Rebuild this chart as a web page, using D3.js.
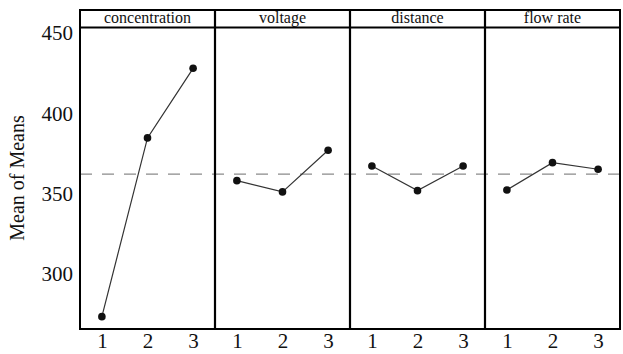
<!DOCTYPE html>
<html>
<head>
<meta charset="utf-8">
<script src="https://cdn.jsdelivr.net/npm/d3@7"></script>
<style>
  body { margin: 0; background: #fff; }
  svg { display: block; }
  svg text { font-family: 'Liberation Serif', 'Times New Roman', serif !important; }
</style>
</head>
<body>
<div id="chart"></div>
<script>
// factors and their level means
var factors = ['concentration', 'voltage', 'distance', 'flow rate']
var levels = ['1', '2', '3']
var concentration = [273.5, 384.7, 428.0]
var voltage = [358.1, 351.1, 377.0]
var distance = [367.2, 351.9, 367.2]
var flowRate = [352.3, 369.3, 365.2]
var yTicks = [300, 350, 400, 450]

var series = [concentration, voltage, distance, flowRate]

var width = 623
var height = 354
var plotLeft = 80
var plotRight = 620
var plotTop = 10
var headerBottom = 27.5
var plotBottom = 329
var serif = "'Liberation Serif', 'Times New Roman', serif"

var svg = d3
  .select('#chart')
  .append('svg')
  .attr('width', width)
  .attr('height', height)
  .attr('font-family', serif)

var panelScale = d3
  .scaleBand()
  .domain(factors)
  .range([plotLeft, plotRight])

var xScale = d3
  .scalePoint()
  .domain(levels)
  .range([0, panelScale.bandwidth()])
  .padding(0.48)

var yScale = d3
  .scaleLinear()
  .domain([265.8, 453.4])
  .range([plotBottom, headerBottom])

var grandMean = d3.mean(d3.merge(series))

// grand mean reference line
svg
  .append('line')
  .attr('x1', plotLeft)
  .attr('x2', plotRight)
  .attr('y1', yScale(grandMean))
  .attr('y2', yScale(grandMean))
  .attr('stroke', '#8a8a8a')
  .attr('stroke-width', 1.3)
  .attr('stroke-dasharray', '12,10')

var line = d3
  .line()
  .x((d, i) => xScale(levels[i]))
  .y(d => yScale(d))

var panels = svg
  .selectAll('.panel')
  .data(factors)
  .enter()
  .append('g')
  .attr('class', 'panel')
  .attr('transform', d => 'translate(' + panelScale(d) + ',0)')

panels
  .append('path')
  .datum((d, i) => series[i])
  .attr('d', line)
  .attr('fill', 'none')
  .attr('stroke', '#333')
  .attr('stroke-width', 1.2)

panels
  .selectAll('.dot')
  .data((d, i) => series[i])
  .enter()
  .append('circle')
  .attr('class', 'dot')
  .attr('cx', (d, i) => xScale(levels[i]))
  .attr('cy', d => yScale(d))
  .attr('r', 3.8)
  .attr('fill', '#111')

// header labels
panels
  .append('text')
  .attr('x', panelScale.bandwidth() / 2)
  .attr('y', 22.5)
  .attr('text-anchor', 'middle')
  .attr('font-size', 16)
  .attr('fill', '#111')
  .text(d => d)

// bottom axis per panel
panels
  .append('g')
  .attr('transform', 'translate(0,' + plotBottom + ')')
  .call(d3.axisBottom(xScale).tickSize(0).tickPadding(4))
  .attr('font-family', serif)
  .attr('font-size', 21)
  .call(g => g.select('.domain').remove())
  .selectAll('text')
  .attr('fill', '#111')

// frame
svg
  .append('rect')
  .attr('x', plotLeft)
  .attr('y', plotTop)
  .attr('width', plotRight - plotLeft)
  .attr('height', plotBottom - plotTop)
  .attr('fill', 'none')
  .attr('stroke', '#000')
  .attr('stroke-width', 2)

svg
  .append('line')
  .attr('x1', plotLeft)
  .attr('x2', plotRight)
  .attr('y1', headerBottom)
  .attr('y2', headerBottom)
  .attr('stroke', '#000')
  .attr('stroke-width', 2)

svg
  .selectAll('.divider')
  .data(factors.slice(1))
  .enter()
  .append('line')
  .attr('class', 'divider')
  .attr('x1', d => panelScale(d))
  .attr('x2', d => panelScale(d))
  .attr('y1', plotTop)
  .attr('y2', plotBottom)
  .attr('stroke', '#000')
  .attr('stroke-width', 2.2)

// y axis
svg
  .append('g')
  .attr('transform', 'translate(' + plotLeft + ',0)')
  .call(d3.axisLeft(yScale).tickValues(yTicks).tickSize(0).tickPadding(7))
  .attr('font-family', serif)
  .attr('font-size', 21)
  .call(g => g.select('.domain').remove())
  .selectAll('text')
  .attr('fill', '#111')

svg
  .append('text')
  .attr('transform', 'translate(24,178) rotate(-90)')
  .attr('text-anchor', 'middle')
  .attr('font-size', 20)
  .attr('fill', '#111')
  .text('Mean of Means')
</script>
</body>
</html>
